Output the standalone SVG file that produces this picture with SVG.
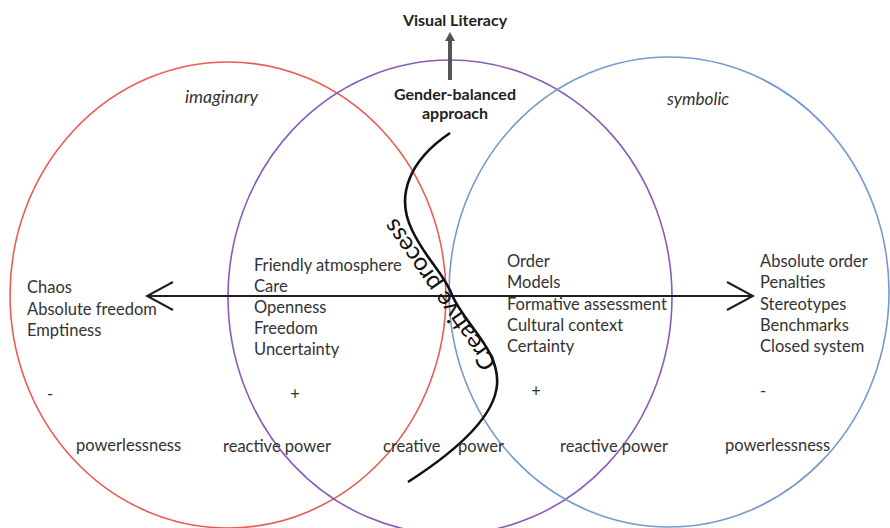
<svg xmlns="http://www.w3.org/2000/svg" width="890" height="528" viewBox="0 0 890 528">
  <style>
    .ring { fill: none; stroke-width: 1.6; }
    .lbl { font-family: Lato, "Liberation Sans", sans-serif; font-size: 16.5px; fill: #333333; }
    .bold { font-family: Lato, "Liberation Sans", sans-serif; font-weight: bold; fill: #222222; }
    .ital { font-family: Lato, "Liberation Sans", sans-serif; font-style: italic; fill: #333333; }
    .axis { fill: none; stroke: #1e1e1e; stroke-width: 2; }
  </style>
  <defs>
    <marker id="chev" viewBox="0 0 30 30" refX="28" refY="15" markerWidth="30" markerHeight="30" markerUnits="userSpaceOnUse" orient="auto-start-reverse">
      <path d="M2,1 L28,15 L2,29" fill="none" stroke="#1e1e1e" stroke-width="2"/>
    </marker>
  </defs>
  <rect width="890" height="528" fill="#ffffff"/>

  <!-- the three orders -->
  <g id="imaginary">
    <ellipse class="ring" cx="228" cy="295" rx="218" ry="233" stroke="#ee5a52"/>
    <text class="ital" x="185" y="103" font-size="17.8">imaginary</text>
  </g>
  <g id="real">
    <ellipse class="ring" cx="450" cy="297" rx="222" ry="237" stroke="#8a5cb8"/>
  </g>
  <g id="symbolic">
    <ellipse class="ring" cx="669" cy="292" rx="220" ry="235" stroke="#769acb"/>
    <text class="ital" x="667" y="105" font-size="17.2">symbolic</text>
  </g>

  <!-- connectors -->
  <g id="connectors">
    <line class="axis" x1="147" y1="296" x2="753" y2="296" marker-start="url(#chev)" marker-end="url(#chev)"/>
    <line x1="450" y1="80" x2="450" y2="40" stroke="#555" stroke-width="4"/>
    <polygon points="445,41 450,32 455,41" fill="#555"/>
    <path d="M450,133 C410,160 395,195 412,230 C425,258 445,275 452,295 C465,325 500,350 497,385 C494,420 450,455 408,482" fill="none" stroke="#111" stroke-width="2.6"/>
  </g>

  <g id="visual-literacy">
    <text class="bold" x="455" y="26" font-size="16" text-anchor="middle">Visual Literacy</text>
  </g>
  <g id="gender-balanced">
    <text class="bold" x="455" y="100" font-size="16" text-anchor="middle">Gender-balanced</text>
    <text class="bold" x="455" y="119" font-size="16" text-anchor="middle">approach</text>
  </g>
  <g id="creative-process">
    <text x="446.5" y="290" font-family="Lato, 'Liberation Sans', sans-serif" font-size="24.5" fill="#111111" text-anchor="middle" transform="rotate(-125 446.5 290)">Creative process</text>
  </g>

  <g id="chaos-list">
    <text class="lbl" x="27" y="293">Chaos</text>
    <text class="lbl" x="27" y="315">Absolute freedom</text>
    <text class="lbl" x="27" y="336">Emptiness</text>
  </g>
  <g id="care-list">
    <text class="lbl" x="254" y="271">Friendly atmosphere</text>
    <text class="lbl" x="254" y="292">Care</text>
    <text class="lbl" x="254" y="313">Openness</text>
    <text class="lbl" x="254" y="334">Freedom</text>
    <text class="lbl" x="254" y="355">Uncertainty</text>
  </g>
  <g id="order-list">
    <text class="lbl" x="507" y="267">Order</text>
    <text class="lbl" x="507" y="288">Models</text>
    <text class="lbl" x="507" y="310">Formative assessment</text>
    <text class="lbl" x="507" y="331">Cultural context</text>
    <text class="lbl" x="507" y="352">Certainty</text>
  </g>
  <g id="absolute-order-list">
    <text class="lbl" x="760" y="267">Absolute order</text>
    <text class="lbl" x="760" y="288">Penalties</text>
    <text class="lbl" x="760" y="310">Stereotypes</text>
    <text class="lbl" x="760" y="331">Benchmarks</text>
    <text class="lbl" x="760" y="352">Closed system</text>
  </g>

  <g id="signs">
    <text class="lbl" x="50" y="400" text-anchor="middle">-</text>
    <text class="lbl" x="295" y="400" text-anchor="middle">+</text>
    <text class="lbl" x="536" y="397" text-anchor="middle">+</text>
    <text class="lbl" x="763" y="397" text-anchor="middle">-</text>
  </g>

  <g id="power-labels">
    <text class="lbl" x="76" y="451">powerlessness</text>
    <text class="lbl" x="223" y="452">reactive power</text>
    <text class="lbl" x="383" y="452">creative</text>
    <text class="lbl" x="458" y="452">power</text>
    <text class="lbl" x="560" y="452">reactive power</text>
    <text class="lbl" x="725" y="451">powerlessness</text>
  </g>
</svg>
